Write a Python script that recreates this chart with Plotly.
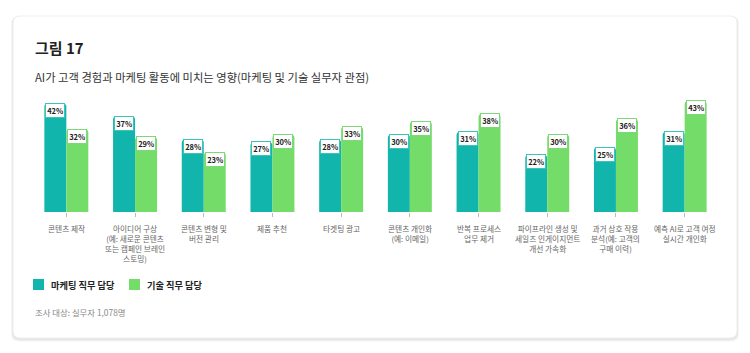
import plotly.graph_objects as go

categories = [
    "콘텐츠 제작",
    "아이디어 구상\n(예: 새로운 콘텐츠\n또는 캠페인 브레인\n스토밍)",
    "콘텐츠 변형 및\n버전 관리",
    "제품 추천",
    "타겟팅 광고",
    "콘텐츠 개인화\n(예: 이메일)",
    "반복 프로세스\n업무 제거",
    "파이프라인 생성 및\n세일즈 인게이지먼트\n개선 가속화",
    "과거 상호 작용\n분석(예: 고객의\n구매 이력)",
    "예측 AI로 고객 여정\n실시간 개인화",
]
marketing = [42, 37, 28, 27, 28, 30, 31, 22, 25, 31]
tech = [32, 29, 23, 30, 33, 35, 38, 30, 36, 43]
series_names = ["마케팅 직무 담당", "기술 직무 담당"]
title_text = "그림 17"
subtitle_text = "AI가 고객 경험과 마케팅 활동에 미치는 영향(마케팅 및 기술 실무자 관점)"
note_text = "조사 대상: 실무자 1,078명"

W, H = 750, 353
ML, MR, MT, MB = 32, 31, 96, 141
PW, PH = W - ML - MR, H - MT - MB

TEAL = "#12b5ab"
GREEN = "#74dd6a"
FONT = "Noto Sans CJK KR, Noto Sans, sans-serif"


def px(x):
    return (x - ML) / PW


def py(y):
    return (H - MB - y) / PH


keys = [f"c{i}" for i in range(len(categories))]

fig = go.Figure()
fig.add_trace(go.Bar(x=keys, y=marketing, name=series_names[0], marker=dict(color=TEAL, line=dict(width=0)), showlegend=False))
fig.add_trace(go.Bar(x=keys, y=tech, name=series_names[1], marker=dict(color=GREEN, line=dict(width=0)), showlegend=False))

annotations = []
# value labels
for vals, shift, border in [(marketing, -11, "#3cc4bb"), (tech, 11, "#7fd877")]:
    for k, v in zip(keys, vals):
        annotations.append(dict(
            x=k, y=v, xref="x", yref="y", text=f"<b>{v}%</b>", showarrow=False,
            xshift=shift, yshift=1, yanchor="top", xanchor="center",
            font=dict(family=FONT, size=7.5, color="#222"),
            bgcolor="white", bordercolor=border, borderwidth=1, borderpad=1.2,
        ))
# category labels (multi-line)
for k, cat in zip(keys, categories):
    annotations.append(dict(
        x=k, y=py(220.5), xref="x", yref="paper", text=cat.replace("\n", "<br>"), showarrow=False,
        xanchor="center", yanchor="top", align="center",
        font=dict(family=FONT, size=7.7, color="#666"),
    ))
# title / subtitle / note
annotations.append(dict(x=px(33), y=py(47), xref="paper", yref="paper", text=f"<b>{title_text}</b>",
                        showarrow=False, xanchor="left", yanchor="middle",
                        font=dict(family=FONT, size=15, color="#222")))
annotations.append(dict(x=px(33), y=py(77), xref="paper", yref="paper", text=subtitle_text,
                        showarrow=False, xanchor="left", yanchor="middle",
                        font=dict(family=FONT, size=11.3, color="#333")))
annotations.append(dict(x=px(33), y=py(312), xref="paper", yref="paper", text=note_text,
                        showarrow=False, xanchor="left", yanchor="middle",
                        font=dict(family=FONT, size=8.4, color="#888")))
# legend
shapes = []
legend_x = [33, 129]
for lx, name, col in zip(legend_x, series_names, [TEAL, GREEN]):
    shapes.append(dict(type="rect", xref="paper", yref="paper", x0=px(lx), x1=px(lx + 11),
                       y0=py(279), y1=py(290), fillcolor=col, line=dict(width=0), layer="above"))
    annotations.append(dict(x=px(lx + 16), y=py(284.5), xref="paper", yref="paper", text=f"<b>{name}</b>",
                            showarrow=False, xanchor="left", yanchor="middle",
                            font=dict(family=FONT, size=9.2, color="#222")))


def rounded(x0, y0, x1, y1, r):
    pts = [
        f"M{px(x0 + r)},{py(y0)}",
        f"L{px(x1 - r)},{py(y0)}",
        f"Q{px(x1)},{py(y0)} {px(x1)},{py(y0 + r)}",
        f"L{px(x1)},{py(y1 - r)}",
        f"Q{px(x1)},{py(y1)} {px(x1 - r)},{py(y1)}",
        f"L{px(x0 + r)},{py(y1)}",
        f"Q{px(x0)},{py(y1)} {px(x0)},{py(y1 - r)}",
        f"L{px(x0)},{py(y0 + r)}",
        f"Q{px(x0)},{py(y0)} {px(x0 + r)},{py(y0)}",
        "Z",
    ]
    return " ".join(pts)


# card shadow and card
for d, a in [(4, 0.025), (3, 0.035), (2, 0.045)]:
    shapes.append(dict(type="path", xref="paper", yref="paper", path=rounded(13 - d / 2, 16, 737 + d / 2, 338 + d, 8),
                       fillcolor=f"rgba(0,0,0,{a})", line=dict(width=0), layer="below"))
shapes.append(dict(type="path", xref="paper", yref="paper", path=rounded(13, 16, 737, 338, 7),
                   fillcolor="white", line=dict(color="#efefef", width=1), layer="below"))

fig.update_layout(
    width=W, height=H,
    margin=dict(l=ML, r=MR, t=MT, b=MB, pad=0),
    paper_bgcolor="white", plot_bgcolor="rgba(0,0,0,0)",
    barmode="group", bargap=0.36, bargroupgap=0, barcornerradius=3,
    showlegend=False,
    xaxis=dict(type="category", range=[-0.5, len(keys) - 0.5], showgrid=False, zeroline=False,
               showline=False, ticks="outside", ticklen=4, tickwidth=1, tickcolor="#bbb",
               showticklabels=False, fixedrange=True),
    yaxis=dict(range=[0, 45], visible=False, fixedrange=True),
    annotations=annotations, shapes=shapes,
    font=dict(family=FONT),
)

fig.write_html("out.html")
